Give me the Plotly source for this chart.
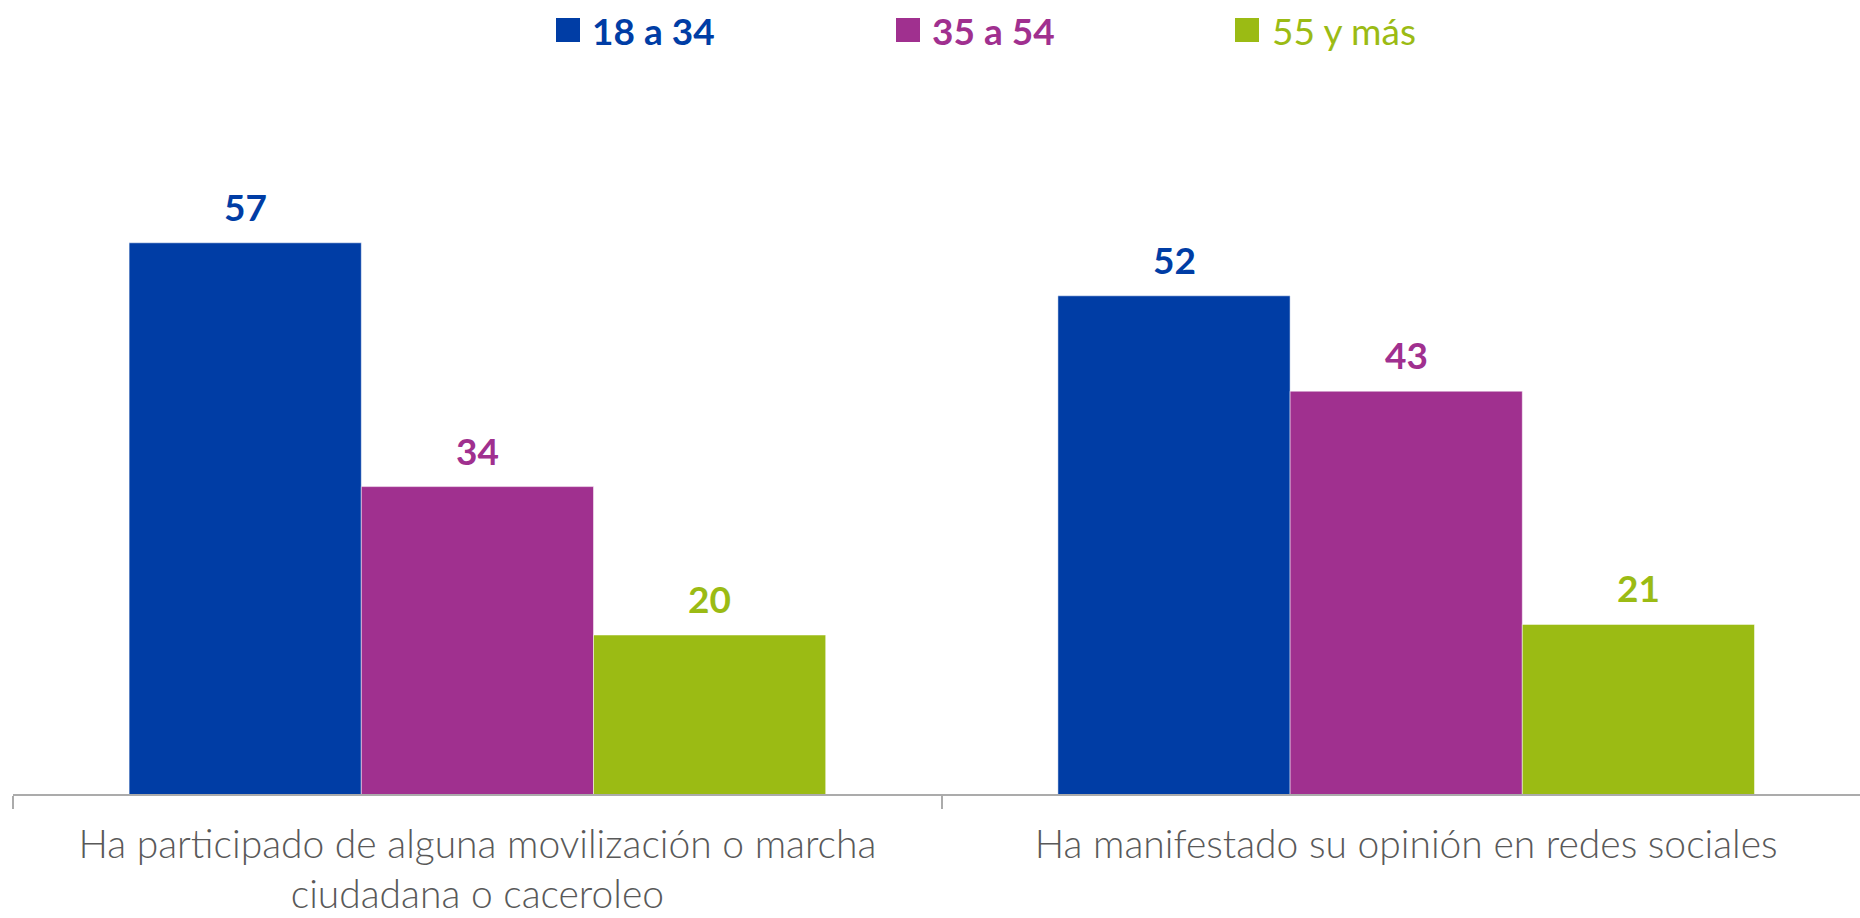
import plotly.graph_objects as go

categories = ["Ha participado de alguna movilización o marcha<br>ciudadana o caceroleo",
              "Ha manifestado su opinión en redes sociales"]
series_names = ["18 a 34", "35 a 54", "55 y más"]
values_18_34 = [57, 52]
values_35_54 = [34, 43]
values_55_mas = [20, 21]
colors = ["#003DA5", "#A0308F", "#9BBB14"]

series_values = [values_18_34, values_35_54, values_55_mas]

W, H = 1860, 918
L, R, T, B = 13, 0, 105, 124
BARGAP = 0.25
cat_px = 928.8
plot_w = W - L - R

fig = go.Figure()
for name, vals, col in zip(series_names, series_values, colors):
    fig.add_trace(go.Bar(
        x=categories, y=vals, name=name,
        marker=dict(color=col, line=dict(color="rgba(255,255,255,0.5)", width=1)),
        showlegend=False, hoverinfo="x+y+name",
    ))

# value labels
n = len(series_names)
bw = (1 - BARGAP) / n
annotations = []
for i, (vals, col) in enumerate(zip(series_values, colors)):
    off = -(1 - BARGAP) / 2 + bw * (i + 0.5)
    for j, v in enumerate(vals):
        annotations.append(dict(
            x=j + off, y=v, xref="x", yref="y", text=f"<b>{v}</b>",
            showarrow=False, yanchor="bottom", yshift=12,
            font=dict(family="Lato", size=37, color=col),
        ))

# legend (manual, top centered)
leg_sq_px = [556, 896, 1235]
leg_tx_px = [590, 930, 1270]
bold = [True, True, False]
shapes = []
for sq, tx, name, col, b in zip(leg_sq_px, leg_tx_px, series_names, colors, bold):
    shapes.append(dict(type="rect", xref="paper", yref="paper",
                       xsizemode="pixel", ysizemode="pixel",
                       xanchor=(sq - L) / plot_w, x0=0, x1=24,
                       yanchor=1, y0=63, y1=87,
                       fillcolor=col, line=dict(width=0)))
    annotations.append(dict(
        x=(tx - L) / plot_w, y=1, xref="paper", yref="paper",
        xanchor="left", yanchor="middle", yshift=75, showarrow=False,
        text=(f"<b>{name}</b>" if b else name),
        font=dict(family="Lato", size=37, color=col),
    ))

fig.update_layout(
    width=W, height=H,
    margin=dict(l=L, r=R, t=T, b=B, pad=0),
    paper_bgcolor="white", plot_bgcolor="white",
    barmode="group", bargap=BARGAP, bargroupgap=0,
    showlegend=False,
    annotations=annotations, shapes=shapes,
    xaxis=dict(
        type="category", automargin=False,
        range=[-0.5, -0.5 + plot_w / cat_px],
        showline=True, linecolor="#ABABAB", linewidth=1.5,
        ticks="outside", tickson="boundaries", ticklen=13,
        tickcolor="#ABABAB", tickwidth=1.5,
        ticklabelstandoff=15,
        tickfont=dict(family="Lato", size=39, color="#595959", weight=300),
        showgrid=False, zeroline=False,
    ),
    yaxis=dict(range=[5, 70], visible=False, showgrid=False, zeroline=False,
               automargin=False),
)

fig.write_html("out.html", config={"displayModeBar": False},
               post_script="document.body.style.margin='0';document.body.style.overflow='hidden';")
